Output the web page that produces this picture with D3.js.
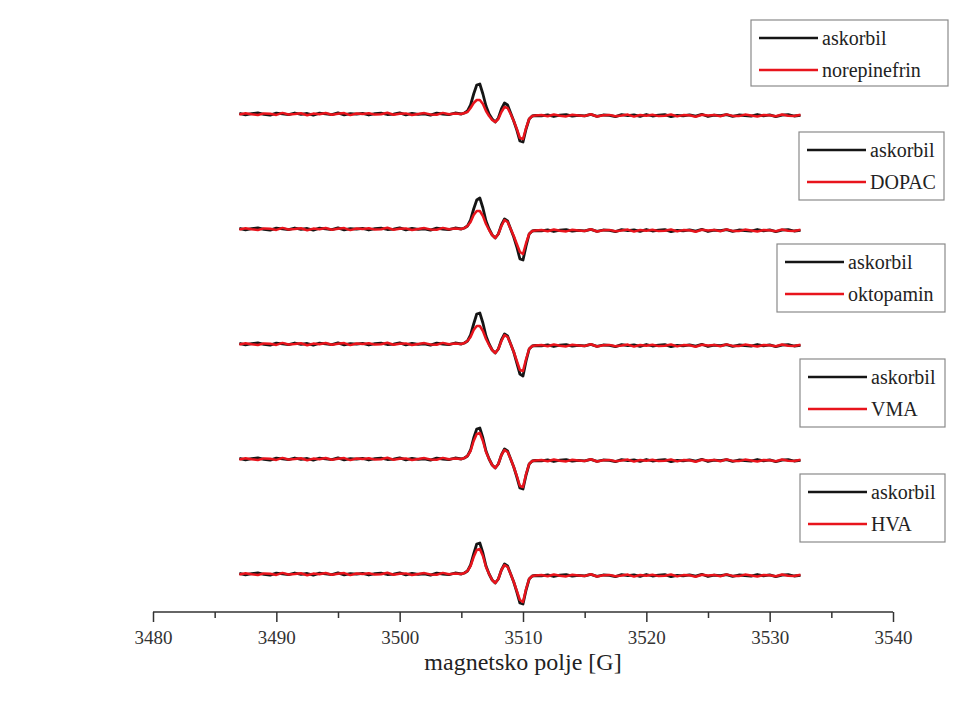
<!DOCTYPE html>
<html><head><meta charset="utf-8">
<script src="https://cdn.jsdelivr.net/npm/d3@7"></script>
<style>body{margin:0;background:#fff}svg{display:block}</style>
</head><body><svg id="c" width="976" height="713"></svg>
<script>
// ---------- data ----------
const sampleNames = ["norepinefrin", "DOPAC", "oktopamin", "VMA", "HVA"];
const referenceName = "askorbil";
const xTicks = [3480, 3490, 3500, 3510, 3520, 3530, 3540];
const xMinorTicks = [3485, 3495, 3505, 3515, 3525, 3535];
const xTitle = "magnetsko polje [G]";

// field grid (G)
const fieldLeft = d3.range(3487, 3505, 0.5);        // baseline before signal
const fieldSignal = d3.range(3505, 3511.01, 0.25);  // signal region
const fieldRight = d3.range(3511.5, 3532.51, 0.5);  // baseline after signal
const rightBaseline = -1.5;

// baseline noise read as small jitter (arbitrary units)
const noiseBlackLeft = [0.6,-0.9,0.3,1.1,-0.4,-1.2,0.8,0.2,-0.7,1.0,-0.3,0.5,-1.1,0.9,0.1,-0.6,1.2,-0.8,0.4,-0.2,0.7,-1.0,0.3,0.9,-0.5,-0.1,1.1,-0.9,0.6,-0.4,0.2,-1.2,0.8,0.0,-0.6,1.0];
const noiseBlackRight = [-0.3,0.7,-1.0,0.4,0.9,-0.7,0.2,-0.4,1.1,-0.9,0.5,0.1,-1.2,0.8,-0.2,0.6,-0.8,1.0,-0.5,0.3,0.9,-1.1,0.2,-0.3,0.7,-0.6,1.2,-1.0,0.4,-0.1,0.8,-0.9,0.5,0.0,-0.7,1.0,-0.4,0.6,-1.1,0.3,0.9,-0.5,0.2];
const noiseRedLeft = [-0.4,0.8,-0.2,-1.0,0.6,0.3,-0.9,1.1,-0.5,0.0,0.7,-1.2,0.4,-0.3,1.0,-0.7,0.2,0.9,-1.1,0.5,-0.1,0.8,-0.6,-0.2,1.2,-0.8,0.3,0.6,-1.0,0.1,0.9,-0.4,-0.7,1.1,-0.3,0.5];
const noiseRedRight = [0.4,-0.8,1.0,-0.2,-0.9,0.7,0.1,-0.5,1.2,-1.0,0.3,0.6,-0.7,0.0,0.9,-1.1,0.5,-0.3,0.8,-0.6,-0.2,1.0,-0.9,0.4,0.2,-1.2,0.7,-0.1,0.6,-0.8,1.1,-0.4,-0.6,0.9,0.0,-1.0,0.5,0.3,-0.7,1.0,-0.2,-0.5,0.8];

// signal (arbitrary units) on fieldSignal grid, one array per panel
const askorbil1 = [0,1,3,9,20,29,30,20,8,0,-5,-8,-4,5,11,9,1,-7,-16,-27,-28,-15,-5,-2,-1.5];
const norepinefrin = [0,1,2,6,11,14,14,10,3,-2,-6,-8,-5,2,7,6,0,-7,-15,-24,-25,-14,-5,-2,-1.5];
const askorbil2 = [0,1,3,9,20,29,31,21,8,0,-6,-9,-5,4,10,8,0,-8,-18,-30,-31,-17,-5,-2,-1.5];
const dopac = [0,1,3,7,14,18,18,13,5,-1,-6,-9,-5,3,9,7,0,-7,-15,-23,-25,-14,-5,-2,-1.5];
const askorbil3 = [0,1,3,9,20,30,31,21,8,0,-6,-9,-5,4,10,8,0,-8,-19,-30,-32,-17,-5,-2,-1.5];
const oktopamin = [0,1,3,7,14,18,18,13,5,-1,-6,-9,-5,3,9,7,0,-8,-17,-26,-27,-15,-5,-2,-1.5];
const askorbil4 = [0,1,3,9,21,30,31,21,8,0,-6,-9,-5,4,10,8,0,-8,-18,-29,-30,-16,-5,-2,-1.5];
const vma = [0,1,3,8,18,25,26,18,7,0,-6,-9,-5,4,9,7,0,-8,-17,-27,-28,-15,-5,-2,-1.5];
const askorbil5 = [0,1,3,9,20,30,31,21,8,0,-6,-9,-5,4,10,8,0,-8,-18,-29,-30,-16,-5,-2,-1.5];
const hva = [0,1,3,8,17,24,25,18,7,0,-6,-9,-5,4,9,7,0,-8,-17,-26,-28,-15,-5,-2,-1.5];

const blackSeries = [askorbil1, askorbil2, askorbil3, askorbil4, askorbil5];
const redSeries = [norepinefrin, dopac, oktopamin, vma, hva];
const panelOffsets = [460, 345, 230, 115, 0]; // vertical stacking offsets (a.u.)

// ---------- chart ----------
const svg = d3.select("#c");
const x = d3.scaleLinear().domain([3480, 3540]).range([153, 893]);
const y = d3.scaleLinear().domain([0, 460]).range([574, 114]);
const serif = "Liberation Serif, Times New Roman, serif";

function buildSeries(sig, nL, nR, off) {
  const pts = [];
  fieldLeft.forEach((f, i) => pts.push([f, off + (nL[i] || 0)]));
  fieldSignal.forEach((f, i) => pts.push([f, off + sig[i]]));
  fieldRight.forEach((f, i) => pts.push([f, off + rightBaseline + (nR[i] || 0)]));
  return pts;
}
const line = d3.line().x(d => x(d[0])).y(d => y(d[1]));

panelOffsets.forEach((off, i) => {
  svg.append("path").datum(buildSeries(blackSeries[i], noiseBlackLeft, noiseBlackRight, off))
    .attr("d", line).attr("fill", "none").attr("stroke", "#151515")
    .attr("stroke-width", 2.8).attr("stroke-linejoin", "round");
  svg.append("path").datum(buildSeries(redSeries[i], noiseRedLeft, noiseRedRight, off))
    .attr("d", line).attr("fill", "none").attr("stroke", "#e8141c")
    .attr("stroke-width", 2.5).attr("stroke-linejoin", "round");
});

// axis
const axisY = 612;
const gMinor = svg.append("g").attr("transform", `translate(0,${axisY})`)
  .call(d3.axisBottom(x).tickValues(xMinorTicks).tickSize(6).tickFormat(""));
const gAxis = svg.append("g").attr("transform", `translate(0,${axisY})`)
  .call(d3.axisBottom(x).tickValues(xTicks).tickSize(10).tickPadding(9).tickFormat(d3.format("d")));
[gMinor, gAxis].forEach(g => {
  g.select(".domain").attr("stroke", "#333").attr("stroke-width", 1.5);
  g.selectAll(".tick line").attr("stroke", "#333").attr("stroke-width", 1.5);
});
gMinor.select(".domain").remove();
gAxis.select(".domain").attr("d", `M${x(3480)},0H${x(3540)}`);
gAxis.selectAll(".tick text").attr("font-family", serif).attr("font-size", 19).attr("fill", "#333");

svg.append("text").attr("x", 523).attr("y", 670).attr("text-anchor", "middle")
  .attr("font-family", serif).attr("font-size", 24).attr("fill", "#222").text(xTitle);

// legends
const legendBoxes = [[751, 20, 197, 66], [799, 132, 145, 68], [777, 244, 168, 68], [800, 359, 145, 68], [800, 474, 145, 68]];
legendBoxes.forEach((b, i) => {
  const [bx, by, bw, bh] = b;
  const g = svg.append("g");
  g.append("rect").attr("x", bx).attr("y", by).attr("width", bw).attr("height", bh)
    .attr("fill", "#fff").attr("stroke", "#8a8a8a").attr("stroke-width", 1.2);
  const entries = [[referenceName, "#151515"], [sampleNames[i], "#e8141c"]];
  entries.forEach((e, j) => {
    const ly = by + 18 + j * 32;
    g.append("line").attr("x1", bx + 8).attr("x2", bx + 67).attr("y1", ly).attr("y2", ly)
      .attr("stroke", e[1]).attr("stroke-width", 2.6);
    g.append("text").attr("x", bx + 71).attr("y", ly + 7).attr("font-family", serif)
      .attr("font-size", 20).attr("fill", "#222").text(e[0]);
  });
});
</script></body></html>
